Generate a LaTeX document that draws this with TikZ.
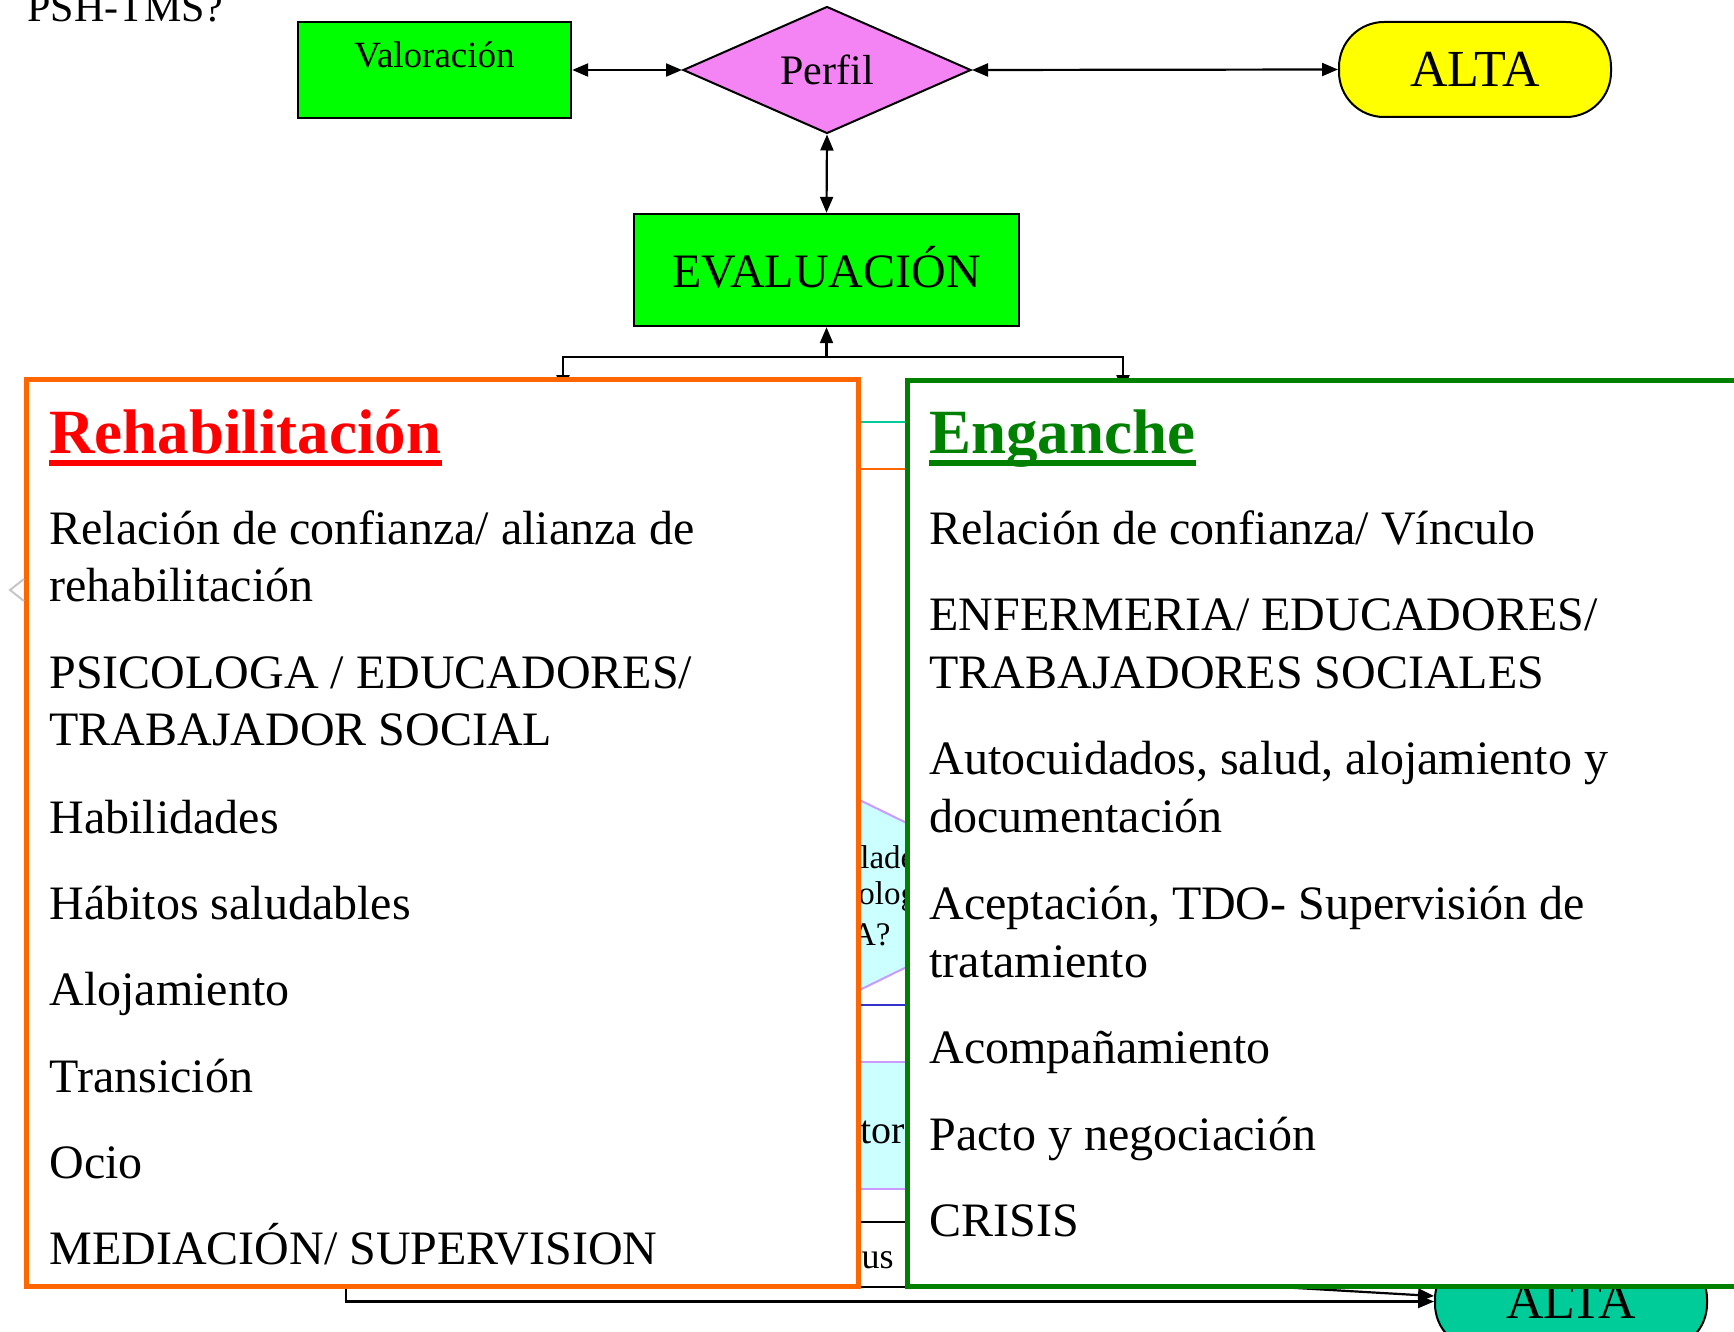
\documentclass[tikz,border=0pt]{standalone}
\usepackage{fontspec}
\setmainfont{Liberation Serif}
\usetikzlibrary{arrows.meta,shapes.geometric,calc}
\definecolor{lgreen}{RGB}{0,255,0}
\definecolor{pinkm}{RGB}{244,132,244}
\definecolor{yel}{RGB}{255,255,0}
\definecolor{tealc}{RGB}{0,204,153}
\definecolor{orng}{RGB}{255,102,0}
\definecolor{dgreen}{RGB}{0,128,0}
\definecolor{cyanl}{RGB}{204,255,255}
\definecolor{lav}{RGB}{204,153,255}
\definecolor{blu}{RGB}{51,51,204}
\definecolor{redt}{RGB}{255,0,0}
\tikzset{
  con/.style={line width=1.1pt},
  tip/.style={-{Triangle[length=8pt,width=6.5pt]}},
  dtip/.style={{Triangle[length=8pt,width=6.5pt]}-{Triangle[length=8pt,width=6.5pt]}},
  gbox/.style={draw=black, line width=1.2pt, fill=lgreen, inner sep=0},
  body/.style={anchor=base west, inner sep=0, font=\fontsize{24pt}{28pt}\selectfont},
  ttl/.style={anchor=base west, inner sep=0, font=\fontsize{31.5pt}{36pt}\selectfont\bfseries},
  frag/.style={inner sep=0},
  bgline/.style={line width=1pt},
  bigbox/.style={line width=2.5pt, fill=white, inner sep=0},
}
\begin{document}
\begin{tikzpicture}[x=0.5pt,y=-0.5pt]
\useasboundingbox (0,0) rectangle (1734,1332);
\clip (0,0) rectangle (1734,1332);

% ---- background fragments of hidden chart
\draw[bgline, lav, fill=cyanl] (700,722) -- (1054,895) -- (700,1068) -- (346,895) -- cycle;
\draw[bgline, tealc] (700,422) -- (1100,422);
\draw[bgline, orng] (700,469) -- (1100,469);
\draw[bgline, blu] (700,1005) -- (1100,1005);
\draw[bgline, lav, fill=cyanl] (600,1062) rectangle (1100,1189);
\draw[bgline, black] (600,1222) rectangle (1100,1287);
\node[frag, anchor=base west, font=\fontsize{16.5pt}{19pt}\selectfont] (fa) at (860,868) {lade};
\node[frag, anchor=base west, font=\fontsize{16.5pt}{19pt}\selectfont] (fb) at (858,904) {olog};
\node[frag, anchor=base east, font=\fontsize{16.5pt}{19pt}\selectfont] (fc) at (891,945) {A?};
\node[frag, anchor=base west, font=\fontsize{20pt}{23pt}\selectfont] (fd) at (860,1143) {tor};
\node[frag, anchor=base east, font=\fontsize{18pt}{21pt}\selectfont] (fe) at (894,1268) {us};

% ---- top of chart
\node[anchor=base west, inner sep=0, font=\fontsize{21pt}{24pt}\selectfont] (psh) at (27,22) {PSH-TMS?};
\node[gbox, minimum width=136.5pt, minimum height=48pt, text height=13.5pt, text depth=15.5pt,
      font=\fontsize{18.5pt}{22pt}\selectfont] (val) at (434.5,70) {Valoración};
\node[diamond, draw=black, line width=1pt, fill=pinkm, inner sep=0, minimum width=144pt, minimum height=63.5pt,
      font=\fontsize{21pt}{24pt}\selectfont] (perf) at (827,70) {Perfil};
\node[draw=black, line width=1pt, fill=yel, rounded corners=22.5pt, minimum width=136pt, minimum height=47.5pt,
      inner sep=0, font=\fontsize{26pt}{30pt}\selectfont] (alta) at (1475,69.5) {ALTA};
\node[gbox, minimum width=192.5pt, minimum height=56pt, text height=17pt, text depth=0pt,
      font=\fontsize{24pt}{28pt}\selectfont] (eval) at (826.5,270) {EVALUACIÓN};

\draw[con,dtip] (val.east) -- (perf.west);
\draw[con,dtip] (perf.east) -- (alta.west);
\draw[con,dtip] (perf.south) -- (eval.north);

\coordinate (jn) at (827,357);
\coordinate (rl) at (563,391);
\coordinate (rr) at (1123,391);
\draw[con,tip] (eval.south |- jn) -- (eval.south);
\draw[con,tip] (eval.south |- jn) -| (rl);
\draw[con,tip] (eval.south |- jn) -| (rr);

% ---- bottom ALTA
\node[draw=black, line width=1pt, fill=tealc, rounded corners=22.5pt, minimum width=136pt, minimum height=47.5pt,
      inner sep=0, font=\fontsize{26pt}{30pt}\selectfont] (altab) at (1571,1301.5) {ALTA};
\coordinate (bl) at (346,1270);
\coordinate (dg) at (1100,1276.6);
\draw[con,tip] (bl) |- (altab.west);
\draw[con,tip] (dg) -- ($(altab.west)+(0,-5.5)$);

% ---- big boxes
\node[bigbox, draw=orng, minimum width=415.75pt, minimum height=453.5pt] (rehab) at (442.25,832.5) {};
\node[bigbox, draw=dgreen, minimum width=426.5pt, minimum height=453pt] (eng) at (1333.5,833) {};

\node[ttl, text=redt] (t1) at (49,453) {Rehabilitación};
\draw[redt, line width=3pt] ($(t1.base west)+(0,10)$) -- ($(t1.base east)+(0,10)$);
\node[ttl, text=dgreen] (t2) at (929,453) {Enganche};
\draw[dgreen, line width=3pt] ($(t2.base west)+(0,10)$) -- ($(t2.base east)+(0,10)$);

\node[body] (l1) at (49,544) {Relación de confianza/ alianza de};
\node[body] (l2) at (49,601) {rehabilitación};
\node[body] (l3) at (49,688) {PSICOLOGA / EDUCADORES/};
\node[body] (l4) at (49,745) {TRABAJADOR SOCIAL};
\node[body] (l5) at (49,833) {Habilidades};
\node[body] (l6) at (49,919) {Hábitos saludables};
\node[body] (l7) at (49,1005) {Alojamiento};
\node[body] (l8) at (49,1092) {Transición};
\node[body] (l9) at (49,1178) {Ocio};
\node[body] (l10) at (49,1264) {MEDIACIÓN/ SUPERVISION};

\node[body] (r1) at (929,544) {Relación de confianza/ Vínculo};
\node[body] (r2) at (929,630) {ENFERMERIA/ EDUCADORES/};
\node[body] (r3) at (929,688) {TRABAJADORES SOCIALES};
\node[body] (r4) at (929,774) {Autocuidados, salud, alojamiento y};
\node[body] (r5) at (929,832) {documentación};
\node[body] (r6) at (929,919) {Aceptación, TDO- Supervisión de};
\node[body] (r7) at (929,977) {tratamiento};
\node[body] (r8) at (929,1063) {Acompañamiento};
\node[body] (r9) at (929,1150) {Pacto y negociación};
\node[body] (r10) at (929,1236) {CRISIS};

% ---- small grey chevron at left
\draw[gray!45, line width=1pt] (24,579) -- (10,590) -- (24,601);
\end{tikzpicture}
\end{document}
